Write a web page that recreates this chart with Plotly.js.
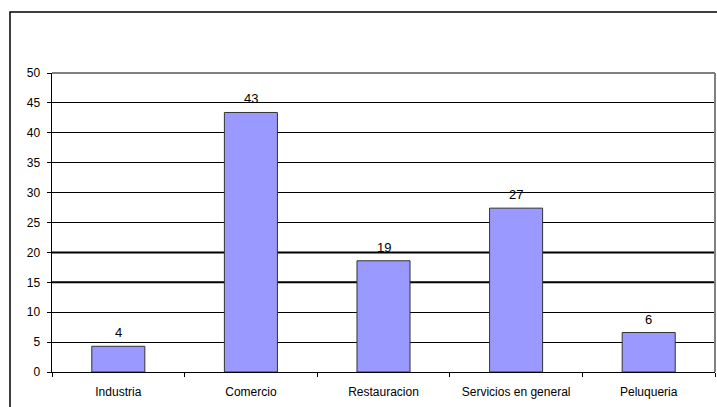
<!DOCTYPE html>
<html>
<head>
<meta charset="utf-8">
<script src="https://cdn.plot.ly/plotly-3.0.1.min.js"></script>
<style>
html,body{margin:0;padding:0;background:#fff;}
#chart{width:717px;height:407px;}
</style>
</head>
<body>
<div id="chart"></div>
<script>
const categories = ["Industria", "Comercio", "Restauracion", "Servicios en general", "Peluqueria"];
const values = [4.3, 43.4, 18.6, 27.4, 6.6];
const valueLabels = ["4", "43", "19", "27", "6"];
const yTicks = [0, 5, 10, 15, 20, 25, 30, 35, 40, 45, 50];

const W = 717, H = 407;
const mL = 52, mR = 2, mT = 73, mB = 35;
const pw = W - mL - mR, ph = H - mT - mB;

const trace = {
  type: "bar",
  x: categories,
  y: values,
  width: 0.4,
  marker: {color: "#9999FF", line: {color: "#333333", width: 1}},
  hoverinfo: "none"
};

const annotations = categories.map((c, i) => ({
  x: c, y: values[i], xref: "x", yref: "y",
  text: valueLabels[i], showarrow: false,
  yanchor: "bottom", yshift: 4,
  font: {family: "Liberation Sans, Arial, sans-serif", size: 13, color: "#000"}
}));

const shapes = [
  {type: "rect", xref: "paper", yref: "paper",
   x0: (10 - mL) / pw, x1: (W + 10 - mL) / pw,
   y0: -(H + 10 - mT - ph) / ph, y1: 1 + (mT - 12) / ph,
   line: {color: "#000", width: 1.5}, fillcolor: "rgba(0,0,0,0)", layer: "above"},
  {type: "line", xref: "paper", yref: "y", x0: 0, x1: 1, y0: 15, y1: 15, line: {color: "#000", width: 2}, layer: "below"},
  {type: "line", xref: "paper", yref: "y", x0: 0, x1: 1, y0: 20, y1: 20, line: {color: "#000", width: 2}, layer: "below"},
  {type: "line", xref: "paper", yref: "paper", x0: 0, x1: 1, y0: 1, y1: 1, line: {color: "#808080", width: 2}, layer: "above"},
  {type: "line", xref: "paper", yref: "paper", x0: 1, x1: 1, y0: 0, y1: 1, line: {color: "#808080", width: 2}, layer: "above"}
];

const layout = {
  width: W, height: H,
  margin: {l: mL, r: mR, t: mT, b: mB, pad: 0},
  paper_bgcolor: "#fff",
  plot_bgcolor: "#fff",
  showlegend: false,
  font: {family: "Liberation Sans, Arial, sans-serif", size: 12, color: "#000"},
  xaxis: {
    type: "category",
    showgrid: false,
    showline: true, linecolor: "#000", linewidth: 1,
    ticks: "outside", tickson: "boundaries", ticklen: 4, tickcolor: "#000", tickwidth: 1,
    ticklabelstandoff: 9,
    tickfont: {size: 12, color: "#000"},
    zeroline: false,
    fixedrange: true
  },
  yaxis: {
    range: [0, 50],
    tickvals: yTicks,
    ticktext: yTicks.map(String),
    showgrid: true, gridcolor: "#000", gridwidth: 1,
    showline: true, linecolor: "#000", linewidth: 1.5,
    ticks: "outside", ticklen: 4, tickcolor: "#000",
    ticklabelstandoff: 4,
    tickfont: {size: 12, color: "#000"},
    zeroline: false,
    fixedrange: true
  },
  annotations: annotations,
  shapes: shapes
};

Plotly.newPlot("chart", [trace], layout, {displayModeBar: false, staticPlot: true});
</script>
</body>
</html>
